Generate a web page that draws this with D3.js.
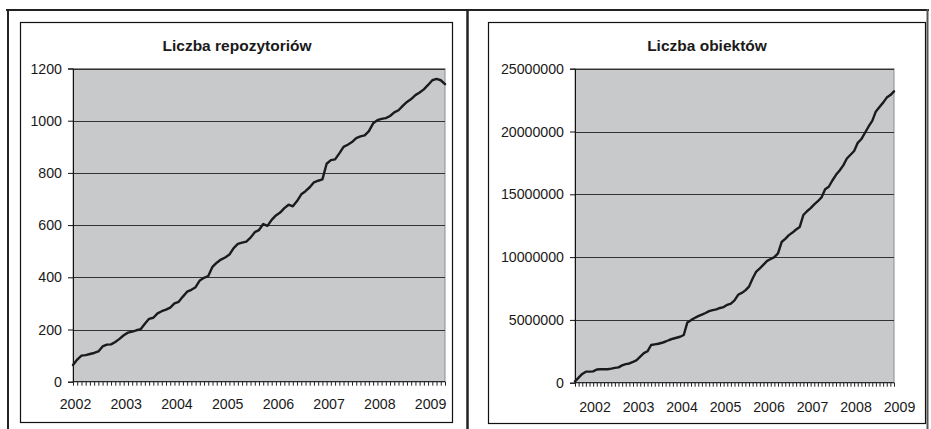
<!DOCTYPE html>
<html>
<head>
<meta charset="utf-8">
<script src="https://cdn.jsdelivr.net/npm/d3@7"></script>
<style>
  html, body { margin: 0; padding: 0; background: #fff; }
  svg { display: block; }
  text { font-family: "Liberation Sans", Arial, sans-serif; fill: #1a1a1a; }
</style>
</head>
<body>
<svg id="chart" width="931" height="429"></svg>
<script>
// Monthly observations, January 2002 – May 2009
const months = d3.range(89);
const yearLabels = ["2002", "2003", "2004", "2005", "2006", "2007", "2008", "2009"];

const repoTitle = "Liczba repozytoriów";
const repoTicks = [0, 200, 400, 600, 800, 1000, 1200];
const repoCounts = [
  64, 85, 100, 102, 106, 110, 116, 135, 142, 143, 152, 164,
  178, 188, 192, 197, 201, 222, 241, 245, 262, 270, 276, 284,
  300, 306, 326, 345, 352, 362, 388, 398, 405, 440, 456, 468,
  476, 487, 512, 528, 533, 537, 552, 573, 581, 604, 597, 620,
  637, 648, 665, 678, 672, 692, 718, 730, 745, 764, 770, 775,
  835, 849, 852, 875, 900, 908, 918, 933, 940, 944, 960, 990,
  1002, 1007, 1010, 1018, 1032, 1040, 1057, 1072, 1083, 1098, 1108, 1120,
  1137, 1155, 1160, 1155, 1140
];

const objTitle = "Liczba obiektów";
const objTicks = [0, 5000000, 10000000, 15000000, 20000000, 25000000];
const objCounts = [
  100000, 400000, 700000, 880000, 880000, 900000, 1050000, 1070000, 1070000, 1070000, 1120000, 1180000,
  1220000, 1380000, 1480000, 1530000, 1650000, 1800000, 2080000, 2350000, 2500000, 3000000, 3050000, 3100000,
  3180000, 3280000, 3400000, 3500000, 3580000, 3660000, 3800000, 4800000, 4980000, 5150000, 5300000, 5420000,
  5550000, 5700000, 5780000, 5840000, 5950000, 6020000, 6200000, 6300000, 6550000, 7000000, 7150000, 7350000,
  7650000, 8300000, 8850000, 9100000, 9400000, 9700000, 9850000, 10000000, 10300000, 11200000, 11450000, 11750000,
  11950000, 12200000, 12400000, 13350000, 13650000, 13900000, 14200000, 14450000, 14750000, 15400000, 15600000, 16100000,
  16550000, 16900000, 17300000, 17850000, 18150000, 18450000, 19100000, 19400000, 19900000, 20400000, 20850000, 21600000,
  21950000, 22300000, 22700000, 22900000, 23200000
];

const svg = d3.select("#chart");

// Outer table frame
const frame = svg.append("g").attr("fill", "none");
frame.append("line").attr("x1", 6).attr("x2", 929).attr("y1", 10).attr("y2", 10)
  .attr("stroke", "#222").attr("stroke-width", 2);
frame.append("line").attr("x1", 8).attr("x2", 8).attr("y1", 9).attr("y2", 429)
  .attr("stroke", "#222").attr("stroke-width", 2);
frame.append("line").attr("x1", 467.5).attr("x2", 467.5).attr("y1", 9).attr("y2", 429)
  .attr("stroke", "#222").attr("stroke-width", 2.5);
frame.append("line").attr("x1", 927.5).attr("x2", 927.5).attr("y1", 9).attr("y2", 429)
  .attr("stroke", "#555").attr("stroke-width", 2);

function drawChart(opt) {
  const g = svg.append("g");

  // chart area border
  g.append("rect")
    .attr("x", opt.box[0] + 0.5).attr("y", opt.box[1] + 0.5)
    .attr("width", opt.box[2] - opt.box[0]).attr("height", opt.box[3] - opt.box[1])
    .attr("fill", "#fff").attr("stroke", "#111").attr("stroke-width", 1.2);

  g.append("text")
    .attr("x", opt.titleX).attr("y", 51)
    .attr("text-anchor", "middle")
    .attr("font-size", 15.5).attr("font-weight", "bold")
    .text(opt.title);

  const x = d3.scaleLinear().domain([0, months.length - 1]).range([opt.left, opt.right]);
  const y = d3.scaleLinear().domain([0, opt.ticks[opt.ticks.length - 1]]).range([opt.bottom, opt.top]);

  // plot area
  g.append("rect")
    .attr("x", opt.left).attr("y", opt.top)
    .attr("width", opt.right - opt.left).attr("height", opt.bottom - opt.top)
    .attr("fill", "#c8c9cb").attr("stroke", "#8c8c8c").attr("stroke-width", 1);

  // horizontal gridlines
  g.append("g").selectAll("line")
    .data(opt.ticks.filter(d => d > 0))
    .join("line")
    .attr("x1", opt.left).attr("x2", opt.right)
    .attr("y1", d => Math.round(y(d)) + 0.5).attr("y2", d => Math.round(y(d)) + 0.5)
    .attr("stroke", "#333").attr("stroke-width", 1);

  // value axis
  const yAxis = g.append("g")
    .attr("transform", `translate(${opt.left},0)`)
    .call(d3.axisLeft(y).tickValues(opt.ticks).tickSize(5).tickPadding(6).tickFormat(d3.format("d")));
  yAxis.select(".domain").attr("stroke", "#111");
  yAxis.selectAll(".tick line").attr("stroke", "#111");
  yAxis.selectAll("text").attr("font-size", 14.2).attr("fill", "#1a1a1a")
    .attr("font-family", "'Liberation Sans', Arial, sans-serif");

  // category axis with monthly tick marks
  const xAxis = g.append("g")
    .attr("transform", `translate(0,${opt.bottom})`)
    .call(d3.axisBottom(x).tickValues(months).tickSize(4).tickFormat(""));
  xAxis.select(".domain").attr("stroke", "#111").attr("d", `M${opt.left},0H${opt.right}`);
  xAxis.selectAll(".tick line").attr("stroke", "#222");

  g.append("g").selectAll("text")
    .data(yearLabels)
    .join("text")
    .attr("x", (d, i) => x(i * 12) + opt.labelShift)
    .attr("y", opt.labelY)
    .attr("text-anchor", "middle")
    .attr("font-size", 14.2)
    .text(d => d);

  // series line
  const line = d3.line()
    .x((d, i) => x(i))
    .y(d => y(d));
  g.append("path")
    .datum(opt.values)
    .attr("d", line)
    .attr("fill", "none")
    .attr("stroke", "#1b1b1b")
    .attr("stroke-width", 2.4)
    .attr("stroke-linejoin", "round")
    .attr("stroke-linecap", "round");
}

drawChart({
  title: repoTitle, values: repoCounts, ticks: repoTicks,
  box: [20, 22, 452, 422], titleX: 237,
  left: 73, right: 445, top: 68.5, bottom: 381.7,
  labelShift: 2.5, labelY: 409
});

drawChart({
  title: objTitle, values: objCounts, ticks: objTicks,
  box: [488, 22, 925, 423], titleX: 707,
  left: 575, right: 894, top: 68.7, bottom: 382.7,
  labelShift: 20, labelY: 411.5
});
</script>
</body>
</html>
